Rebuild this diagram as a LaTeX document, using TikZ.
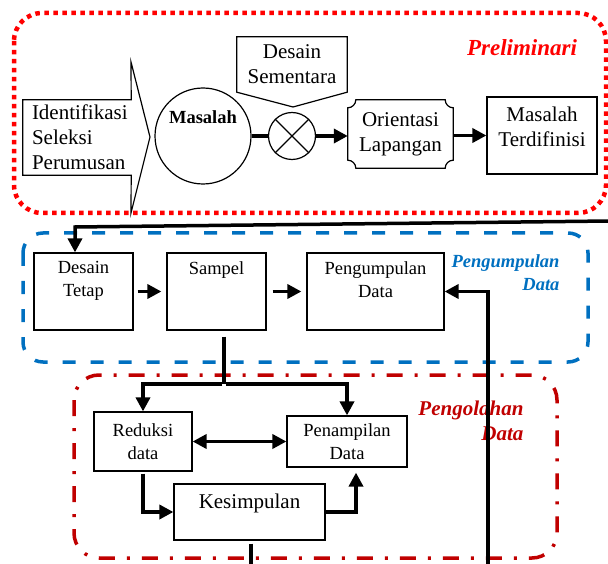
\documentclass[tikz,border=0pt]{standalone}
\usepackage{fontspec}
\setmainfont{Liberation Serif}
\usepackage{xcolor}
\usetikzlibrary{arrows.meta,calc,shapes}

\definecolor{prelimred}{HTML}{FF0000}
\definecolor{kumpulblue}{HTML}{0070C0}
\definecolor{olahred}{HTML}{C00000}

\newcommand{\bigtxt}{\fontsize{21}{25}\selectfont}
\newcommand{\smalltxt}{\fontsize{18.5}{23}\selectfont}

\tikzset{
  box/.style={draw, line width=1.2pt, rectangle, inner sep=0pt, align=center},
  ghost/.style={rectangle, inner sep=0pt, align=center},
  outline/.style={line width=1.2pt, line join=miter},
  toplbl/.style={anchor=north, align=center, inner sep=9pt},
  toptext/.style={label={[toplbl, font=\smalltxt]north:#1}},
  topbig/.style={label={[toplbl, font=\bigtxt, inner sep=10pt]north:#1}},
  link/.style={line width=3.5pt},
  flow/.style={line width=3.5pt, -{Triangle[length=14pt,width=14pt]}},
  twoway/.style={line width=3.5pt, {Triangle[length=14pt,width=14pt]}-{Triangle[length=14pt,width=14pt]}},
  prelim/.style={draw=prelimred, line width=4.5pt, dash pattern=on 4.5pt off 4.5pt, rounded corners=28pt},
  collect/.style={draw=kumpulblue, line width=3.5pt, dash pattern=on 13pt off 15pt, rounded corners=20pt},
  olah/.style={draw=olahred, line width=3.5pt, dash pattern=on 16pt off 12pt on 3pt off 12pt, rounded corners=25pt},
  stage/.style={font=\bfseries\itshape\smalltxt, align=right, anchor=east}
}

\begin{document}
\begin{tikzpicture}[x=1pt, y=-1pt]
  \useasboundingbox (0,0) rectangle (608,564);

  % Frames
  \draw[prelim] (14,13) rectangle (606,213);
  \node[font=\bfseries\itshape\fontsize{23}{27}\selectfont, text=prelimred] (prelimlbl) at (522,48) {Preliminari};
  \draw[collect] (23,233) rectangle (588,362);
  \node[stage, text=kumpulblue] (kumpullbl) at (563,273) {Pengumpulan\\Data};
  \draw[olah] (74,375) rectangle (557,558);
  \node[stage, text=olahred, font=\bfseries\itshape\bigtxt] (olahlbl) at (527,421) {Pengolahan\\Data};

  % Preliminari
  \node[ghost, font=\bigtxt, align=left, minimum width=108pt, minimum height=75pt, text width=90pt] (ident) at (77,137.5) {Identifikasi\\Seleksi\\Perumusan};
  \draw[outline] (ident.south west) -- (ident.north west) -- (ident.north east) -- (131,62) -- (150,137) -- (131,213) -- (ident.south east) -- cycle;
  \node[circle, draw, line width=1.2pt, minimum size=96pt,
        label={[font=\bfseries\smalltxt, yshift=19pt]center:Masalah}] (masalah) at (203,136) {};
  \node[circle, draw, line width=1.2pt, minimum size=47pt, inner sep=0pt] (mix) at (292,136) {};
  \draw[line width=1.2pt] (mix.north west) -- (mix.south east) (mix.north east) -- (mix.south west);
  \node[ghost, font=\bigtxt, minimum width=110pt, minimum height=55pt] (dsem) at (292,64.5) {Desain\\Sementara};
  \draw[outline] (dsem.south west) -- (dsem.north west) -- (dsem.north east) -- (dsem.south east) -- (293,107) -- cycle;
  \node[ghost, font=\bigtxt, minimum width=105pt, minimum height=68pt] (orient) at (400.5,134) {Orientasi\\Lapangan};
  \draw[outline] ([xshift=8pt]orient.north west) -- ([xshift=-8pt]orient.north east)
    arc[start angle=180, end angle=270, radius=8pt] -- ([yshift=8pt]orient.south east)
    arc[start angle=90, end angle=180, radius=8pt] -- ([xshift=8pt]orient.south west)
    arc[start angle=0, end angle=90, radius=8pt] -- ([yshift=-8pt]orient.north west)
    arc[start angle=270, end angle=360, radius=8pt] -- cycle;
  \node[box, minimum width=110pt, minimum height=77pt, topbig={Masalah\\Terdifinisi}] (terdef) at (542,135.5) {};

  \draw[link] (masalah.east) -- (mix.west);
  \draw[flow] (mix.east) -- (mix.east -| orient.west);
  \draw[flow] (terdef.west -| orient.east) -- (terdef.west);

  % Pengumpulan Data
  \node[box, minimum width=99pt, minimum height=77pt, toptext={Desain\\Tetap}] (dtetap) at (83.5,291.5) {};
  \node[box, minimum width=99pt, minimum height=77pt, toptext={Sampel}] (sampel) at (216.5,291.5) {};
  \node[box, minimum width=137pt, minimum height=77pt, toptext={Pengumpulan\\Data}] (pengump) at (375.5,291.5) {};

  \coordinate (topin) at (610,221);
  \coordinate (bend) at (75,227);
  \draw[flow] (topin) -- (bend) -- (bend |- dtetap.north);
  \draw[flow, shorten <=4pt, shorten >=5pt] (dtetap.east) -- (sampel.west);
  \draw[flow, shorten <=6pt, shorten >=5pt] (sampel.east) -- (pengump.west);
  \coordinate (rightin) at (488,566);
  \draw[flow] (rightin) |- (pengump.east);

  % Pengolahan Data
  \node[box, font=\smalltxt, minimum width=98pt, minimum height=59pt] (reduksi) at (143,441.5) {Reduksi\\data};
  \node[box, font=\smalltxt, minimum width=120pt, minimum height=51pt] (penamp) at (347,441.5) {Penampilan\\Data};
  \node[box, minimum width=151pt, minimum height=56pt, topbig={Kesimpulan}] (kesimp) at (249.5,512) {};

  \coordinate (split) at (224,384);
  \draw[link, shorten <=6pt] (split |- sampel.south) -- (split);
  \draw[flow] ([xshift=-1.75pt]split) -| (reduksi.north);
  \draw[flow] ([xshift=1.75pt]split) -| (penamp.north);
  \draw[twoway] (reduksi.east) -- (penamp.west);
  \draw[flow, shorten <=2pt] (reduksi.south) |- (kesimp.west);
  \coordinate (upturn) at (356,512);
  \draw[flow, shorten >=5pt] (kesimp.east) -- (upturn) -- (upturn |- penamp.south);
  \coordinate (botout) at (251,566);
  \draw[link, shorten <=3pt] (botout |- kesimp.south) -- (botout);
\end{tikzpicture}
\end{document}
